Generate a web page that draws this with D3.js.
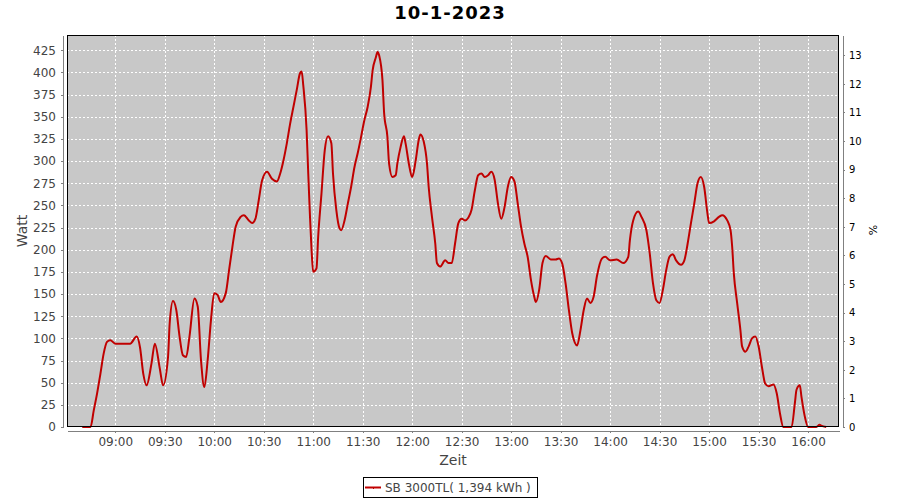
<!DOCTYPE html>
<html><head><meta charset="utf-8">
<script src="https://cdn.jsdelivr.net/npm/d3@7"></script>
<style>
body{margin:0;background:#fff}
svg{display:block}
text{font-family:"DejaVu Sans",sans-serif}
</style>
</head><body>
<svg id="chart" width="900" height="500"></svg>
<script>
const chartTitle = "10-1-2023";
const seriesName = "SB 3000TL( 1,394 kWh )";
const yLabel = "Watt";
const y2Label = "%";
const xLabel = "Zeit";

const times = [
"08:40","08:45","08:47","08:49","08:51","08:53","08:55","08:57","09:00","09:09",
"09:13","09:15","09:17","09:19","09:22","09:24","09:27","09:29","09:32","09:33",
"09:35","09:37","09:39","09:41","09:43","09:45","09:48","09:50","09:52","09:54",
"09:56","09:58","10:00","10:02","10:04","10:07","10:09","10:11","10:13","10:16",
"10:18","10:21","10:23","10:25","10:27","10:29","10:32","10:35","10:38","10:40",
"10:42","10:44","10:46","10:48","10:50","10:52","10:53","10:54","10:56","10:57",
"10:58","10:59","11:00","11:02","11:03","11:05","11:07","11:09","11:11","11:12",
"11:14","11:16","11:17","11:19","11:21","11:23","11:25","11:27","11:29","11:31",
"11:33","11:35","11:36","11:38","11:39","11:40","11:42","11:43","11:45","11:46",
"11:48","11:50","11:51","11:53","11:55","11:56","11:58","12:00","12:02","12:04",
"12:05","12:07","12:09","12:10","12:12","12:14","12:15","12:17","12:20","12:22",
"12:24","12:26","12:28","12:30","12:32","12:34","12:36","12:38","12:40","12:42",
"12:44","12:46","12:48","12:50","12:52","12:54","12:56","12:58","13:00","13:02",
"13:04","13:06","13:08","13:10","13:12","13:14","13:15","13:17","13:19","13:21",
"13:24","13:27","13:29","13:31","13:33","13:35","13:37","13:40","13:42","13:44",
"13:46","13:48","13:50","13:52","13:55","13:57","14:00","14:04","14:08","14:11",
"14:12","14:14","14:17","14:19","14:22","14:24","14:26","14:28","14:30","14:32",
"14:34","14:36","14:38","14:40","14:43","14:45","14:47","14:49","14:51","14:53",
"14:55","14:57","14:59","15:00","15:03","15:06","15:08","15:11","15:13","15:14",
"15:15","15:17","15:19","15:20","15:22","15:24","15:26","15:28","15:30","15:32",
"15:34","15:36","15:39","15:41","15:43","15:45","15:50","15:52","15:53","15:55",
"15:56","15:58","16:00","16:05","16:07","16:08","16:11"
];
const watts = [
0,0,19,38,60,83,96,98,94,94,
102,90,60,47,72,94,66,47,79,117,
142,132,102,81,79,102,145,136,75,45,
75,120,151,149,141,151,177,203,226,237,
239,233,230,235,256,278,288,280,277,286,
301,320,342,361,380,399,401,385,335,286,
240,200,175,179,214,263,312,328,320,286,
245,224,222,233,252,271,293,309,327,346,
361,384,402,417,423,419,391,354,327,297,
282,284,297,316,328,320,297,282,299,324,
330,322,297,271,237,207,185,181,188,185,
185,207,230,235,233,236,245,267,284,286,
282,284,288,279,252,235,248,271,282,277,
252,226,207,192,166,147,141,155,185,193,
189,189,190,184,162,132,106,92,109,132,
145,140,147,170,190,192,188,189,185,192,
211,233,243,237,222,196,162,143,140,155,
177,192,195,188,183,188,207,230,252,275,
282,271,241,230,232,237,239,233,222,203,
173,140,109,91,85,91,100,102,91,68,
49,46,48,38,15,0,0,27,42,47,
34,12,0,0,2.5,1.5,0
];

const xDomain = ["08:30:45", "16:18:45"];
const xTickTimes = ["09:00","09:30","10:00","10:30","11:00","11:30","12:00","12:30",
  "13:00","13:30","14:00","14:30","15:00","15:30","16:00"];
const yDomainMax = 442.2;
const yTicks = [0,25,50,75,100,125,150,175,200,225,250,275,300,325,350,375,400,425];
const pctDomainMax = 13.71;
const pctTicks = [0,1,2,3,4,5,6,7,8,9,10,11,12,13];

const parseHM = d3.timeParse("%H:%M");
const parseHMS = d3.timeParse("%H:%M:%S");
const data = times.map((t, i) => ({t: parseHM(t), v: watts[i]}));

const P = {left: 67, right: 839, top: 35, bottom: 427};
const svg = d3.select("#chart");

const x = d3.scaleTime().domain(xDomain.map(parseHMS)).range([P.left, P.right]);
const y = d3.scaleLinear().domain([0, yDomainMax]).range([P.bottom, P.top]);
const y2 = d3.scaleLinear().domain([0, pctDomainMax]).range([P.bottom, P.top]);

// plot background
svg.append("rect").attr("x", P.left).attr("y", P.top)
  .attr("width", P.right - P.left).attr("height", P.bottom - P.top)
  .attr("fill", "#c8c8c8");

// gridlines
const grid = svg.append("g").attr("stroke", "#fff").attr("stroke-width", 1)
  .attr("stroke-dasharray", "2,2").attr("shape-rendering", "crispEdges");
grid.selectAll(".h").data(yTicks.filter(d => d > 0)).join("line")
  .attr("x1", P.left).attr("x2", P.right)
  .attr("y1", d => Math.round(y(d)) + 0.5).attr("y2", d => Math.round(y(d)) + 0.5);
grid.selectAll(".v").data(xTickTimes.map(parseHM)).join("line")
  .attr("y1", P.top).attr("y2", P.bottom)
  .attr("x1", d => Math.round(x(d)) + 0.5).attr("x2", d => Math.round(x(d)) + 0.5);

// line
svg.append("clipPath").attr("id", "clip").append("rect")
  .attr("x", P.left).attr("y", P.top - 2).attr("width", P.right - P.left).attr("height", P.bottom - P.top + 4);
const line = d3.line().x(d => x(d.t)).y(d => y(d.v)).curve(d3.curveMonotoneX);
svg.append("path").datum(data).attr("clip-path", "url(#clip)")
  .attr("d", line).attr("fill", "none").attr("stroke", "#c00000")
  .attr("stroke-width", 2).attr("stroke-linejoin", "round");

// plot border
svg.append("rect").attr("x", P.left + 0.5).attr("y", P.top + 0.5)
  .attr("width", P.right - P.left - 1).attr("height", P.bottom - P.top - 1)
  .attr("fill", "none").attr("stroke", "#000").attr("stroke-width", 1);

function styleAxis(g, size, color) {
  g.selectAll("text").attr("font-family", "DejaVu Sans, sans-serif")
    .attr("font-size", size).attr("fill", color);
  g.selectAll("line,path").attr("stroke", "#808080").attr("shape-rendering", "crispEdges");
}

// left axis
const gl = svg.append("g").attr("transform", `translate(${P.left - 4},0)`)
  .call(d3.axisLeft(y).tickValues(yTicks).tickSize(2).tickSizeOuter(0).tickPadding(5));
styleAxis(gl, 12, "#444");

// right axis
const gr = svg.append("g").attr("transform", `translate(${P.right + 4},0)`)
  .call(d3.axisRight(y2).tickValues(pctTicks).tickSize(2).tickSizeOuter(0).tickPadding(4));
styleAxis(gr, 10, "#000");

// bottom axis
const gb = svg.append("g").attr("transform", `translate(0,${P.bottom + 4})`)
  .call(d3.axisBottom(x).tickValues(xTickTimes.map(parseHM)).tickFormat(d3.timeFormat("%H:%M"))
    .tickSize(2).tickSizeOuter(0).tickPadding(4));
styleAxis(gb, 12, "#444");

// title
svg.append("text").attr("x", 450).attr("y", 19).attr("text-anchor", "middle")
  .attr("font-size", 18).attr("font-weight", "bold").attr("letter-spacing", "1px")
  .attr("fill", "#000").text(chartTitle);

// axis labels
svg.append("text").attr("transform", "translate(27,231) rotate(-90)")
  .attr("text-anchor", "middle").attr("font-size", 14).attr("fill", "#444").text(yLabel);
svg.append("text").attr("transform", "translate(877,230) rotate(-90)")
  .attr("text-anchor", "middle").attr("font-size", 11).attr("fill", "#000").text(y2Label);
svg.append("text").attr("x", (P.left + P.right) / 2).attr("y", 465)
  .attr("text-anchor", "middle").attr("font-size", 14).attr("fill", "#444").text(xLabel);

// legend
const lg = svg.append("g");
lg.append("rect").attr("x", 363.5).attr("y", 477.5).attr("width", 174).attr("height", 20)
  .attr("fill", "#fff").attr("stroke", "#000");
lg.append("line").attr("x1", 365).attr("x2", 381).attr("y1", 487.5).attr("y2", 487.5)
  .attr("stroke", "#c00000").attr("stroke-width", 2);
lg.append("rect").attr("x", 373).attr("y", 488).attr("width", 1).attr("height", 1).attr("fill", "#c00000");
lg.append("text").attr("x", 385).attr("y", 491.5).attr("font-size", 12).attr("fill", "#444").text(seriesName);
</script>
</body></html>
